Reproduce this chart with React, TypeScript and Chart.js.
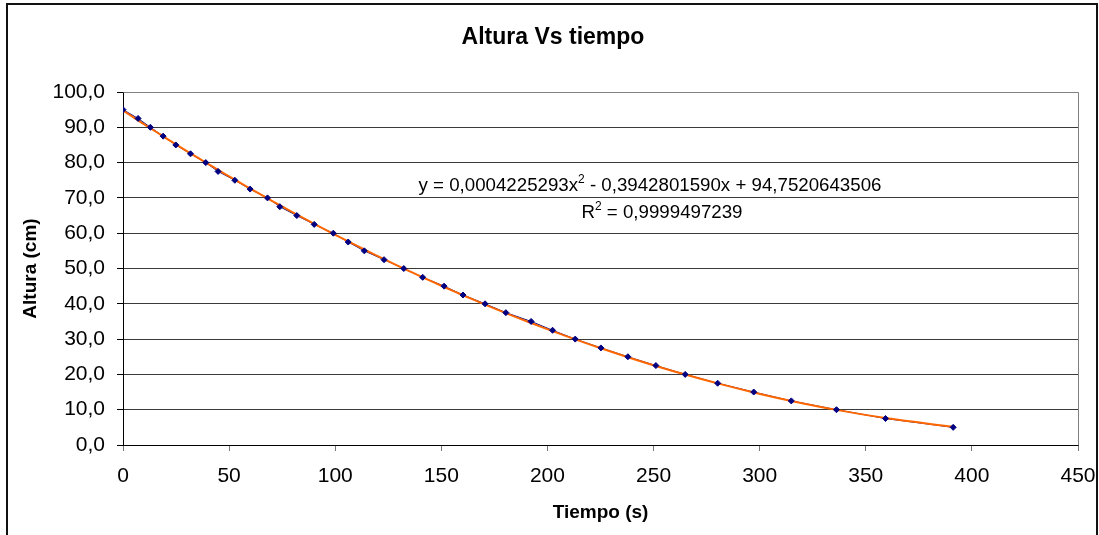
import React, { useEffect, useRef } from "react";
import { Chart, registerables } from "chart.js";
Chart.register(...registerables);

// ---- data ----
const tiempo = [
  0, 7.1, 12.9, 18.9, 24.9, 31.8, 39.0, 44.8, 52.7, 59.9, 68.1, 73.9, 81.9,
  90.1, 99.1, 106.1, 113.7, 123.0, 132.3, 141.2, 151.3, 160.2, 170.6, 180.4,
  192.3, 202.4, 213.1, 225.2, 237.9, 251.1, 264.9, 280.2, 297.2, 314.9, 336.2,
  359.3, 391.2,
];
const altura = [
  95.0, 92.5, 90.0, 87.5, 85.0, 82.5, 80.0, 77.5, 75.0, 72.5, 70.0, 67.5, 65.0,
  62.5, 60.0, 57.5, 55.0, 52.5, 50.0, 47.5, 45.0, 42.5, 40.0, 37.5, 35.0, 32.5,
  30.0, 27.5, 25.0, 22.5, 20.0, 17.5, 15.0, 12.5, 10.0, 7.5, 5.0,
];
const xTicks = [0, 50, 100, 150, 200, 250, 300, 350, 400, 450];
const yTicks = [0, 10, 20, 30, 40, 50, 60, 70, 80, 90, 100];
const chartTitle = "Altura Vs tiempo";
const xTitle = "Tiempo (s)";
const yTitle = "Altura (cm)";
// polynomial trendline coefficients as printed on the chart
const coefA = 0.0004225293;
const coefB = -0.394280159;
const coefC = 94.7520643506;
const eqLine1 = [
  { t: "y = 0,0004225293x" },
  { t: "2", sup: true },
  { t: " - 0,3942801590x + 94,7520643506" },
];
const eqLine2 = [{ t: "R" }, { t: "2", sup: true }, { t: " = 0,9999497239" }];

const FONT = "'Liberation Sans', Arial, sans-serif";

type Part = { t: string; sup?: boolean };

function drawRich(ctx: CanvasRenderingContext2D, parts: Part[], cx: number, baseline: number, size: number) {
  const supSize = Math.round(size * 0.62);
  const widths = parts.map((p) => {
    ctx.font = `${p.sup ? supSize : size}px ${FONT}`;
    return ctx.measureText(p.t).width;
  });
  const total = widths.reduce((a, b) => a + b, 0);
  let x = cx - total / 2;
  ctx.textAlign = "left";
  ctx.textBaseline = "alphabetic";
  ctx.fillStyle = "#000";
  parts.forEach((p, i) => {
    ctx.font = `${p.sup ? supSize : size}px ${FONT}`;
    ctx.fillText(p.t, x, p.sup ? baseline - size * 0.42 : baseline);
    x += widths[i];
  });
}

const decor = {
  id: "decor",
  beforeDraw(chart: any) {
    const ctx = chart.ctx as CanvasRenderingContext2D;
    ctx.save();
    ctx.fillStyle = "#fff";
    ctx.fillRect(0, 0, chart.width, chart.height);
    ctx.strokeStyle = "#111";
    ctx.lineWidth = 2;
    ctx.strokeRect(7, 4, 1090, 700);
    ctx.restore();
  },
  beforeDatasetsDraw(chart: any) {
    const ctx = chart.ctx as CanvasRenderingContext2D;
    const a = chart.chartArea;
    ctx.save();
    ctx.strokeStyle = "#808080";
    ctx.lineWidth = 1;
    ctx.beginPath();
    ctx.moveTo(Math.round(a.left) + 0.5, Math.round(a.top) + 0.5);
    ctx.lineTo(Math.round(a.right) + 0.5, Math.round(a.top) + 0.5);
    ctx.lineTo(Math.round(a.right) + 0.5, Math.round(a.bottom) + 0.5);
    ctx.stroke();
    ctx.restore();
  },
  afterDraw(chart: any) {
    const ctx = chart.ctx as CanvasRenderingContext2D;
    ctx.save();
    ctx.fillStyle = "#000";
    ctx.font = `bold 23px ${FONT}`;
    ctx.textAlign = "center";
    ctx.textBaseline = "alphabetic";
    ctx.fillText(chartTitle, 553, 44);
    drawRich(ctx, eqLine1, 650, 191, 18.7);
    drawRich(ctx, eqLine2, 662, 218, 18.7);
    ctx.restore();
  },
};

export default function App() {
  const ref = useRef<HTMLCanvasElement | null>(null);
  useEffect(() => {
    document.body.style.margin = "0";
    const canvas = ref.current;
    if (!canvas) return;
    const pts = tiempo.map((t, i) => ({ x: t, y: altura[i] }));
    const trend = tiempo.map((t) => ({ x: t, y: coefA * t * t + coefB * t + coefC }));
    const chart = new Chart(canvas, {
      type: "scatter",
      data: {
        datasets: [
          {
            label: "Altura",
            data: pts,
            showLine: false,
            pointStyle: "rectRot",
            pointRadius: 3,
            pointBackgroundColor: "#000080",
            pointBorderColor: "#000080",
            pointBorderWidth: 1,
          },
          {
            label: "Tendencia",
            data: trend,
            showLine: true,
            borderColor: "#FF6600",
            borderWidth: 2,
            pointRadius: 0,
            tension: 0.4,
          },
          {
            label: "Linea",
            data: pts,
            showLine: true,
            borderColor: "#000080",
            borderWidth: 1,
            pointRadius: 0,
          },
        ],
      },
      options: {
        animation: false,
        responsive: false,
        devicePixelRatio: 1,
        layout: { padding: { left: 0, top: 92, right: 21, bottom: 0 } },
        plugins: {
          legend: { display: false },
          tooltip: { enabled: false },
          title: { display: false },
        },
        scales: {
          x: {
            type: "linear",
            min: 0,
            max: 450,
            afterBuildTicks: (s: any) => {
              s.ticks = xTicks.map((v) => ({ value: v }));
            },
            afterFit: (s: any) => {
              s.height = 90;
              s.paddingLeft = 0;
              s.paddingRight = 0;
            },
            ticks: {
              color: "#000",
              font: { family: FONT, size: 21 },
              padding: 13,
              maxRotation: 0,
              autoSkip: false,
              callback: (v: any) => String(v),
            },
            grid: {
              drawOnChartArea: false,
              tickLength: 6,
              tickColor: "#777",
            },
            border: { color: "#000", width: 1 },
            title: {
              display: true,
              text: xTitle,
              color: "#000",
              font: { family: FONT, size: 19, weight: "bold" },
              padding: { top: 0, bottom: 11 },
            },
          },
          y: {
            type: "linear",
            min: 0,
            max: 100,
            afterBuildTicks: (s: any) => {
              s.ticks = yTicks.map((v) => ({ value: v }));
            },
            afterFit: (s: any) => {
              s.width = 123;
              s.paddingTop = 0;
              s.paddingBottom = 0;
            },
            ticks: {
              color: "#000",
              font: { family: FONT, size: 21 },
              padding: 12,
              autoSkip: false,
              callback: (v: any) => Number(v).toFixed(1).replace(".", ","),
            },
            grid: {
              color: "#3a3a3a",
              tickLength: 6,
              tickColor: "#000",
            },
            border: { color: "#000", width: 1 },
            title: {
              display: true,
              text: yTitle,
              color: "#000",
              font: { family: FONT, size: 19, weight: "bold" },
              padding: { top: 19, bottom: 0 },
            },
          },
        },
      },
      plugins: [decor],
    });
    return () => chart.destroy();
  }, []);
  return (
    <div style={{ width: 1099, height: 535 }}>
      <canvas ref={ref} width={1099} height={535} style={{ display: "block" }} />
    </div>
  );
}
